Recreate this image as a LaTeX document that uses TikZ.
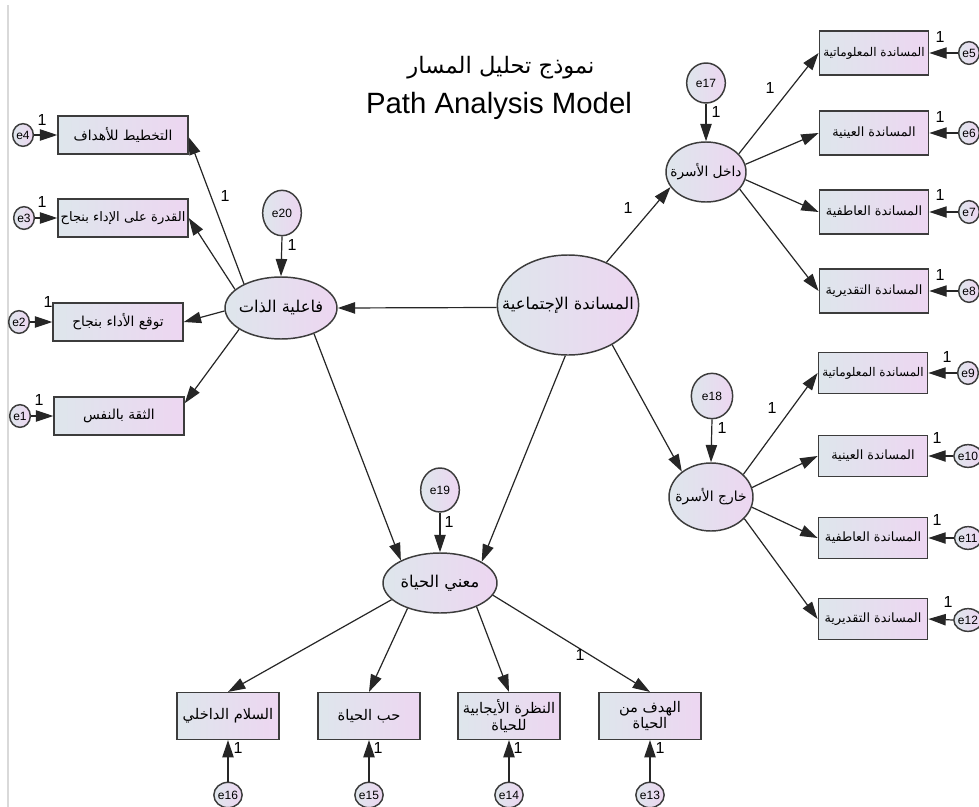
\documentclass[tikz,border=0pt]{standalone}
\usepackage{fontspec}
\setmainfont{Liberation Sans}
\newfontfamily\arabicfont[Script=Arabic]{DejaVu Sans}
\TeXXeTstate=1
\usetikzlibrary{arrows.meta,shapes.geometric,calc}

% right-to-left Arabic label that does not widen its node
\newcommand{\artxt}[1]{\makebox[0pt]{\arabicfont\beginR #1\endR}}

\definecolor{fillA}{RGB}{222,230,236}
\definecolor{fillB}{RGB}{237,214,241}
\definecolor{edgegray}{RGB}{60,60,60}

\tikzset{
  base/.style={draw=edgegray, line width=1.1pt, left color=fillA, right color=fillB, inner sep=0pt},
  obsL/.style={base, rectangle, minimum width=97.5pt, minimum height=28.5pt, font=\fontsize{10.3}{12}\selectfont},
  obsR/.style={base, rectangle, minimum width=82pt, minimum height=33pt, font=\fontsize{9.6}{12}\selectfont},
  obsB/.style={base, rectangle, minimum width=76.5pt, minimum height=35pt, align=center, font=\fontsize{11}{12.5}\selectfont},
  lat/.style={base, ellipse, font=\fontsize{12.2}{14}\selectfont},
  errbig/.style={base, ellipse, minimum width=29pt, minimum height=34pt, font=\fontsize{9}{10}\selectfont},
  errsm/.style={base, ellipse, minimum width=15.5pt, minimum height=17pt, font=\fontsize{9}{10}\selectfont},
  path/.style={-{Triangle[length=13pt,width=8.5pt]}, line width=0.9pt, draw=black!85},
  one/.style={inner sep=0pt, font=\fontsize{12}{12}\selectfont},
}

\begin{document}
\begin{tikzpicture}[x=0.75pt, y=-0.75pt]
\useasboundingbox (0,0) rectangle (979,807);
\fill[white] (0,0) rectangle (979,807);
\draw[black!15, line width=0.8pt] (8,5) -- (8,807);

% title
\node (tAr) at (501,68) {\fontsize{17}{20}\selectfont{\arabicfont\beginR نموذج تحليل المسار\endR}};
\node[font=\fontsize{22}{24}\selectfont] (tEn) at (499,106) {Path Analysis Model};

% latent variables
\node[lat, minimum width=84pt, minimum height=46.5pt] (F) at (281,308) {\artxt{فاعلية الذات}};
\node[lat, minimum width=106pt, minimum height=75pt] (S) at (568,305) {\artxt{المساندة الإجتماعية}};
\node[lat, minimum width=60pt, minimum height=45pt, font=\fontsize{10.3}{12}\selectfont] (D) at (706,172) {\artxt{داخل الأسرة}};
\node[lat, minimum width=63pt, minimum height=51pt, font=\fontsize{10.4}{12}\selectfont] (K) at (711,497) {\artxt{خارج الأسرة}};
\node[lat, minimum width=85.5pt, minimum height=45pt] (M) at (440,583) {\artxt{معني الحياة}};

% disturbances
\node[errbig] (e20) at (282,213) {e20};
\node[errbig, minimum height=30pt] (e17) at (706,83) {e17};
\node[errbig, minimum width=31pt] (e18) at (712,396) {e18};
\node[errbig, minimum height=33pt] (e19) at (440,490) {e19};

% indicators of self-efficacy
\node[obsL] (b4) at (123,135) {\artxt{التخطيط للأهداف}};
\node[obsL, font=\fontsize{9.8}{12}\selectfont] (b3) at (123,218) {\artxt{القدرة على الإداء بنجاح}};
\node[obsL] (b2) at (118,322) {\artxt{توقع الأداء بنجاح}};
\node[obsL] (b1) at (119,416) {\artxt{الثقة بالنفس}};
\node[errsm] (e4) at (23,135) {e4};
\node[errsm] (e3) at (24,218) {e3};
\node[errsm] (e2) at (19,322) {e2};
\node[errsm] (e1) at (20,416) {e1};

% indicators of support inside the family
\node[obsR, font=\fontsize{9}{12}\selectfont] (b5) at (874,53) {\artxt{المساندة المعلوماتية}};
\node[obsR] (b6) at (874,133) {\artxt{المساندة العينية}};
\node[obsR] (b7) at (874,212) {\artxt{المساندة العاطفية}};
\node[obsR] (b8) at (874,291) {\artxt{المساندة التقديرية}};
\node[errsm] (e5) at (969,53) {e5};
\node[errsm] (e6) at (969,133) {e6};
\node[errsm] (e7) at (969,212) {e7};
\node[errsm] (e8) at (969,291) {e8};

% indicators of support outside the family
\node[obsR, minimum height=31pt, font=\fontsize{9}{12}\selectfont] (b9) at (873,373) {\artxt{المساندة المعلوماتية}};
\node[obsR, minimum height=31pt] (b10) at (873,456) {\artxt{المساندة العينية}};
\node[obsR, minimum height=31pt] (b11) at (873,538) {\artxt{المساندة العاطفية}};
\node[obsR, minimum height=31pt] (b12) at (873,619) {\artxt{المساندة التقديرية}};
\node[errsm] (e9) at (968,373) {e9};
\node[errsm] (e10) at (968,456) {e10};
\node[errsm] (e11) at (968,538) {e11};
\node[errsm] (e12) at (968,620) {e12};

% indicators of meaning in life
\node[obsB] (b16) at (228,716) {\artxt{السلام الداخلي}};
\node[obsB] (b15) at (369,716) {\artxt{حب الحياة}};
\node[obsB] (b14) at (509,716) {\artxt{النظرة الأيجابية}\\\artxt{للحياة}};
\node[obsB] (b13) at (650,716) {\artxt{الهدف من}\\\artxt{الحياة}};
\node[errsm, minimum height=19pt] (e16) at (228,795) {e16};
\node[errsm, minimum height=19pt] (e15) at (369,795) {e15};
\node[errsm, minimum height=19pt] (e14) at (509,795) {e14};
\node[errsm, minimum height=19pt] (e13) at (650,795) {e13};

% structural paths
\draw[path] (S.182) -- (F.east);
\draw[path] (S.48) -- (D.203);
\draw[path] (S.318) -- (K.139);
\draw[path] (S.267) -- (M.27);
\draw[path] (F.322) -- (M.150);

% self-efficacy loadings
\draw[path] (F.147) -- (b4.358);
\draw[path] (F.158) -- (b3.east);
\draw[path] (F.183) -- (b2.east);
\draw[path] (F.207) -- (b1.11);

% inside-family loadings
\draw[path] (D.29) -- (b5.west);
\draw[path] (D.11) -- (b6.west);
\draw[path] (D.349) -- (b7.west);
\draw[path] (D.333) -- (b8.west);

% outside-family loadings
\draw[path] (K.35) -- (b9.west);
\draw[path] (K.13) -- (b10.west);
\draw[path] (K.346) -- (b11.west);
\draw[path] (K.327) -- (b12.west);

% meaning-in-life loadings
\draw[path] (M.199) -- (b16.north);
\draw[path] (M.218) -- (b15.north);
\draw[path] (M.327) -- (b14.north);
\draw[path] (M.347) -- (b13.north);

% disturbance and error paths
\foreach \e/\t in {e20/F, e17/D, e18/K, e19/M}
  \draw[path] (\e.south) -- (\t.north);
\foreach \e/\b in {e4/b4, e3/b3, e2/b2, e1/b1}
  \draw[path] (\e.east) -- (\b.west);
\foreach \e/\b in {e5/b5, e6/b6, e7/b7, e8/b8, e9/b9, e10/b10, e11/b11, e12/b12}
  \draw[path] (\e.west) -- (\b.east);
\foreach \e/\b in {e16/b16, e15/b15, e14/b14, e13/b13}
  \draw[path] (\e.north) -- (\b.south);

% fixed coefficients
\node[one] (l1) at (225,196) {1};
\node[one] (l2) at (628,208) {1};
\node[one] (l3) at (770,88) {1};
\node[one] (l4) at (772,408) {1};
\node[one] (l5) at (580,655) {1};
\node[one] (l6) at (292,245) {1};
\node[one] (l7) at (716,112) {1};
\node[one] (l8) at (722,428) {1};
\node[one] (l9) at (449,522) {1};
\node[one] (l10) at (42,120) {1};
\node[one] (l11) at (42,202) {1};
\node[one] (l12) at (48,302) {1};
\node[one] (l13) at (39,400) {1};
\node[one] (l14) at (940,37) {1};
\node[one] (l15) at (940,117) {1};
\node[one] (l16) at (940,195) {1};
\node[one] (l17) at (940,275) {1};
\node[one] (l18) at (947,357) {1};
\node[one] (l19) at (937,438) {1};
\node[one] (l20) at (937,520) {1};
\node[one] (l21) at (948,602) {1};
\node[one] (l22) at (238,748) {1};
\node[one] (l23) at (378,748) {1};
\node[one] (l24) at (518,748) {1};
\node[one] (l25) at (660,748) {1};
\end{tikzpicture}
\end{document}
